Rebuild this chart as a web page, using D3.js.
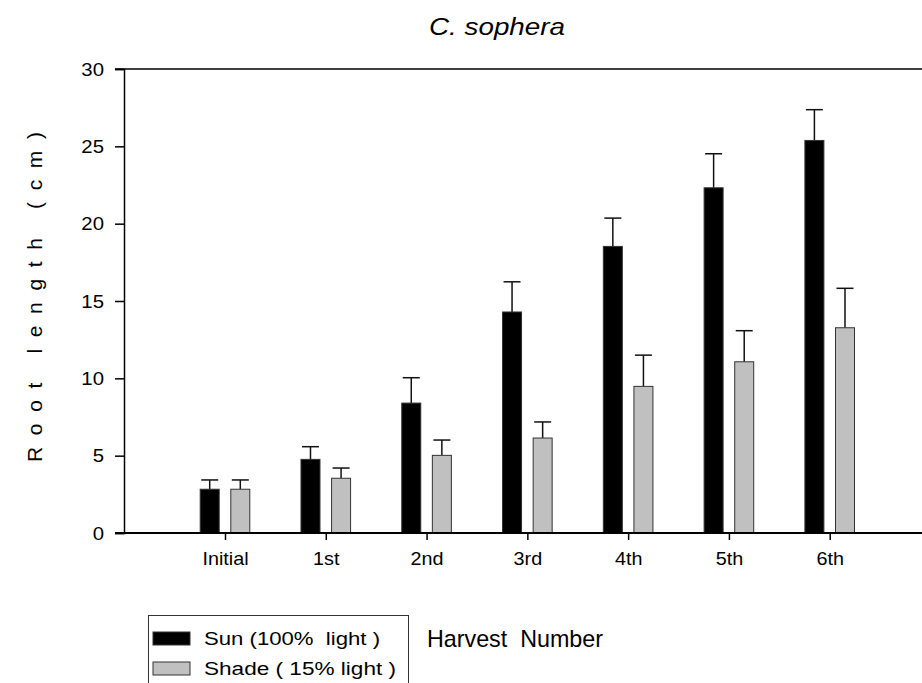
<!DOCTYPE html>
<html><head><meta charset="utf-8">
<script src="https://cdn.jsdelivr.net/npm/d3@7"></script>
<style>body{margin:0;background:#fff}svg{display:block}text{font-family:"Liberation Sans",Arial,sans-serif;fill:#000;white-space:pre}</style>
</head><body><svg id="c" width="922" height="683"></svg>
<script>
const categories = ["Initial","1st","2nd","3rd","4th","5th","6th"];
const sunValues = [2.83, 4.76, 8.4, 14.29, 18.53, 22.32, 25.38];
const sunErrors = [0.6, 0.82, 1.64, 1.95, 1.83, 2.2, 1.99];
const shadeValues = [2.83, 3.54, 5.02, 6.14, 9.48, 11.07, 13.27];
const shadeErrors = [0.6, 0.66, 0.99, 1.04, 2.02, 2.01, 2.55];
const yTicks = [0, 5, 10, 15, 20, 25, 30];
const seriesNames = ["Sun (100%  light )", "Shade ( 15% light )"];
const titleText = "C. sophera";
const yLabel = "R o o t   l e n g t h   ( c m )";
const xLabel = "Harvest  Number";

const SX = 1.1;
const svg = d3.select("#c");
const y = d3.scaleLinear().domain([0,30]).range([533,69]);
const x = d3.scalePoint().domain(categories).range([225,829.7]);
const off = 15.3, bw = 19;

svg.append("line").attr("x1",115).attr("x2",922).attr("y1",y(30)).attr("y2",y(30)).attr("stroke","#000").attr("stroke-width",1.5);

const series = [
  {vals: sunValues, errs: sunErrors, fill:"#000", stroke:"#333", dx:-off},
  {vals: shadeValues, errs: shadeErrors, fill:"#c0c0c0", stroke:"#333", dx:off}
];
series.forEach(s=>{
  const g = svg.append("g");
  const data = categories.map((c,i)=>({c, v:s.vals[i], e:s.errs[i]}));
  g.selectAll("line.err").data(data).join("line")
    .attr("x1",d=>x(d.c)+s.dx).attr("x2",d=>x(d.c)+s.dx)
    .attr("y1",d=>y(d.v)).attr("y2",d=>y(d.v+d.e)).attr("stroke","#111").attr("stroke-width",1.5);
  g.selectAll("line.cap").data(data).join("line")
    .attr("x1",d=>x(d.c)+s.dx-8.5).attr("x2",d=>x(d.c)+s.dx+8.5)
    .attr("y1",d=>y(d.v+d.e)).attr("y2",d=>y(d.v+d.e)).attr("stroke","#111").attr("stroke-width",1.5);
  g.selectAll("rect").data(data).join("rect")
    .attr("x",d=>x(d.c)+s.dx-bw/2).attr("width",bw)
    .attr("y",d=>y(d.v)).attr("height",d=>y(0)-y(d.v))
    .attr("fill",s.fill).attr("stroke",s.stroke).attr("stroke-width",1);
});

const yAxis = svg.append("g").attr("transform","translate(124,0)")
  .call(d3.axisLeft(y).tickValues(yTicks).tickSize(9).tickPadding(10).tickFormat(d3.format("d")));
yAxis.selectAll("path").attr("stroke","#000").attr("stroke-width",1.5);
yAxis.selectAll("line").attr("stroke","#000").attr("stroke-width",1.5);
yAxis.selectAll("text").attr("font-size",18.5).attr("font-family",'"Liberation Sans",Arial,sans-serif')
  .attr("transform",`scale(${SX},1)`).attr("x",-20/SX).attr("dy","0.34em");

svg.append("line").attr("x1",115).attr("x2",922).attr("y1",y(0)).attr("y2",y(0)).attr("stroke","#000").attr("stroke-width",1.8);
const xAxis = svg.append("g").attr("transform",`translate(0,${y(0)})`)
  .call(d3.axisBottom(x).tickSize(7).tickPadding(12));
xAxis.select("path").remove();
xAxis.selectAll("line").attr("stroke","#000").attr("stroke-width",1.5);
xAxis.selectAll("text").attr("font-size",18).attr("font-family",'"Liberation Sans",Arial,sans-serif')
  .attr("transform",`scale(${SX},1)`);

svg.append("text").attr("x",497).attr("y",35).attr("text-anchor","middle")
  .attr("font-size",24).attr("font-style","italic").attr("textLength",136).attr("lengthAdjust","spacingAndGlyphs").text(titleText);

svg.append("text").attr("transform","translate(42,297) rotate(-90)").attr("text-anchor","middle")
  .attr("font-size",21).attr("textLength",330).attr("lengthAdjust","spacing").text(yLabel);

svg.append("text").attr("x",427).attr("y",647).attr("font-size",24)
  .attr("textLength",176).attr("lengthAdjust","spacingAndGlyphs").text(xLabel);

const lg = svg.append("g");
lg.append("rect").attr("x",148.5).attr("y",615.5).attr("width",260).attr("height",100).attr("fill","none").attr("stroke","#333").attr("stroke-width",1);
const fills = ["#000","#c0c0c0"];
const ly = [632, 662];
seriesNames.forEach((n,i)=>{
  lg.append("rect").attr("x",153).attr("y",ly[i]).attr("width",37).attr("height",13).attr("fill",fills[i]).attr("stroke","#333").attr("stroke-width",1);
  lg.append("text").attr("x",204).attr("y",ly[i]+13).attr("font-size",18)
    .attr("textLength",i===0?176:192).attr("lengthAdjust","spacingAndGlyphs").text(n);
});
</script></body></html>
